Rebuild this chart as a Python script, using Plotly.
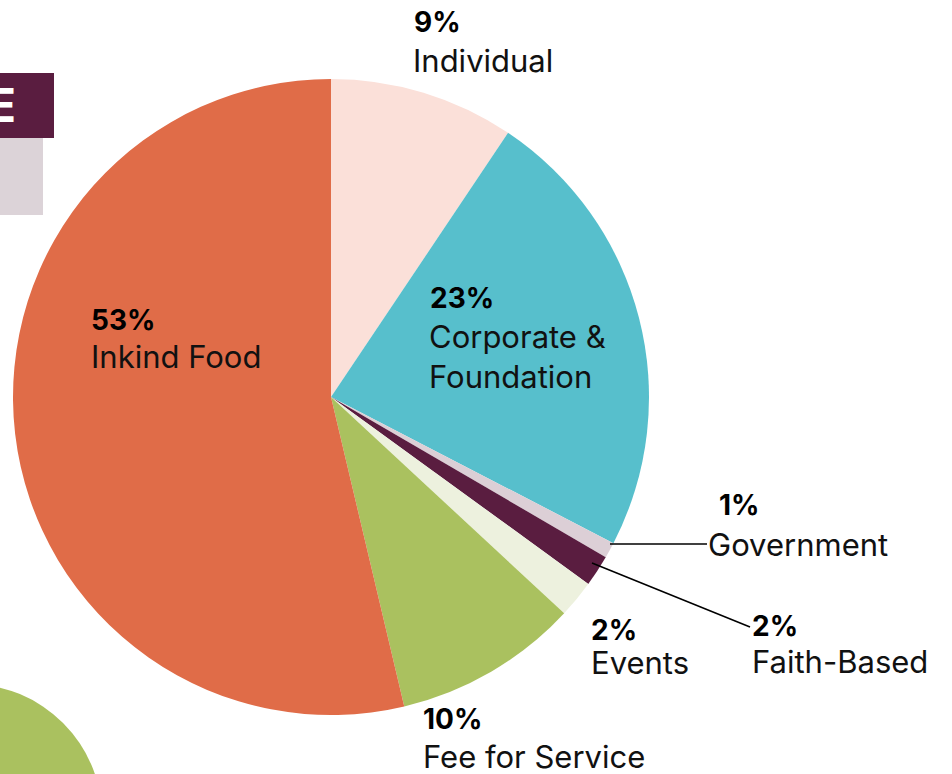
import plotly.graph_objects as go

W, H = 952, 774

categories = ["Individual", "Corporate &<br>Foundation", "Government", "Faith-Based", "Events", "Fee for Service", "Inkind Food"]
values = [9.4, 23.2, 0.8, 1.6, 1.9, 9.4, 53.7]
pct_labels = ["9%", "23%", "1%", "2%", "2%", "10%", "53%"]
colors = ["#FBE0D9", "#57BFCC", "#DCCFD6", "#5A1D40", "#EDF1DE", "#AAC15F", "#E06C48"]

# label layout (pixel positions of text blocks)
pct_pos = [(412, 22), (428, 298), (717, 505), (750, 626), (589, 630), (421, 719), (89, 320)]
name_pos = [(411, 60), (427, 357), (706, 544), (750, 661), (589, 662), (421, 756), (89, 357)]

cx, cy, r = 331, 397, 318

def px(x):
    return x / W

def py(y):
    return 1 - y / H

fig = go.Figure()
fig.add_trace(go.Pie(
    labels=categories,
    values=values,
    marker=dict(colors=colors, line=dict(width=0)),
    sort=False,
    direction="clockwise",
    rotation=0,
    textinfo="none",
    hoverinfo="label+percent",
    showlegend=False,
    domain=dict(x=[px(cx - r), px(cx + r)], y=[py(cy + r), py(cy - r)]),
))

font_name = "Inter"
ann = []
for i, cat in enumerate(categories):
    x0, y0 = pct_pos[i]
    ann.append(dict(x=px(x0), y=py(y0), xref="paper", yref="paper", xanchor="left", yanchor="middle",
                    text="<b>" + pct_labels[i] + "</b>", showarrow=False,
                    font=dict(family=font_name, size=28, color="#000000", weight=800)))
    x1, y1 = name_pos[i]
    if "<br>" in cat:
        y1 = (338 + 376) / 2
    ann.append(dict(x=px(x1), y=py(y1), xref="paper", yref="paper", xanchor="left", yanchor="middle",
                    text=cat, showarrow=False, align="left",
                    font=dict(family=font_name, size=31, color="#111111")))

# decorative cropped header letter
ann.append(dict(x=px(18), y=py(105), xref="paper", yref="paper", xanchor="right", yanchor="middle",
                text="<b>E</b>", showarrow=False,
                font=dict(family=font_name, size=46, color="#FFFFFF", weight=900)))

shapes = [
    # decorative green circle bottom-left
    dict(type="circle", xref="paper", yref="paper", x0=px(-31 - 133), x1=px(-31 + 133),
         y0=py(817 + 133), y1=py(817 - 133), fillcolor="#AAC15F", line=dict(width=0), layer="below"),
    # header boxes
    dict(type="rect", xref="paper", yref="paper", x0=0, x1=px(54), y0=py(138), y1=py(73),
         fillcolor="#5A1D40", line=dict(width=0), layer="below"),
    dict(type="rect", xref="paper", yref="paper", x0=0, x1=px(43), y0=py(215), y1=py(138),
         fillcolor="#DCD3D8", line=dict(width=0), layer="below"),
    # leader lines
    dict(type="line", xref="paper", yref="paper", x0=px(610), y0=py(544), x1=px(707), y1=py(544),
         line=dict(color="#000000", width=1.5)),
    dict(type="line", xref="paper", yref="paper", x0=px(592), y0=py(563), x1=px(750), y1=py(627),
         line=dict(color="#000000", width=1.5)),
]

fig.update_layout(
    width=W, height=H,
    margin=dict(l=0, r=0, t=0, b=0),
    paper_bgcolor="#FFFFFF",
    plot_bgcolor="#FFFFFF",
    annotations=ann,
    shapes=shapes,
)

fig.write_html("out.html")
